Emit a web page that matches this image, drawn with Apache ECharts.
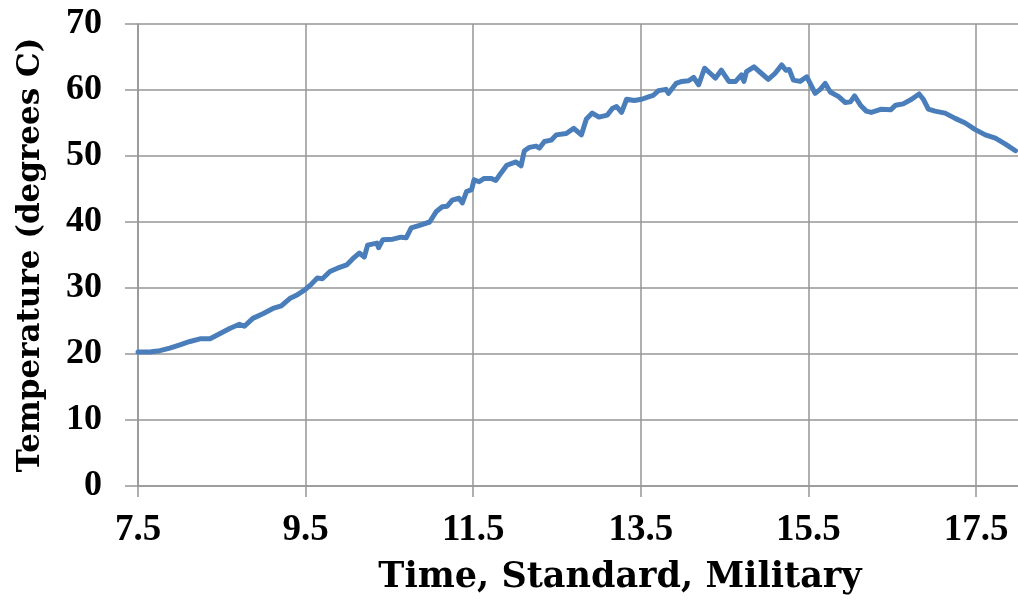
<!DOCTYPE html>
<html>
<head>
<meta charset="utf-8">
<script src="https://cdn.jsdelivr.net/npm/echarts@6/dist/echarts.min.js"></script>
<style>
html,body{margin:0;padding:0;background:#fff;}
#chart{width:1018px;height:605px;}
</style>
</head>
<body>
<div id="chart"></div>
<script>
// Time of day (hours, military) and temperature (degrees C)
const times = [
  7.50, 7.64, 7.76, 7.88, 8.00, 8.12, 8.24, 8.36, 8.48, 8.60, 8.71, 8.77, 8.87, 8.99,
  9.11, 9.21, 9.31, 9.39, 9.49, 9.57, 9.64, 9.70, 9.79, 9.88, 9.99, 10.06, 10.14, 10.20,
  10.24, 10.35, 10.37, 10.42, 10.54, 10.64, 10.70, 10.76, 10.86, 10.98,
  11.06, 11.13, 11.19, 11.25, 11.33, 11.37, 11.42, 11.48, 11.51, 11.57, 11.63, 11.71,
  11.77, 11.83, 11.90, 12.01, 12.07, 12.11, 12.17, 12.25, 12.29, 12.35, 12.43, 12.49,
  12.61, 12.70, 12.79, 12.85, 12.92, 13.00, 13.10, 13.16, 13.21, 13.27, 13.33, 13.42,
  13.51, 13.60, 13.65, 13.71, 13.80, 13.83, 13.92, 13.99, 14.07, 14.13, 14.19, 14.26,
  14.33, 14.39, 14.46, 14.55, 14.63, 14.70, 14.73, 14.76, 14.85, 14.94, 15.02, 15.10,
  15.18, 15.23, 15.27, 15.32, 15.40, 15.48, 15.52, 15.58, 15.64, 15.70, 15.76, 15.86,
  15.94, 16.00, 16.05, 16.12, 16.19, 16.25, 16.37, 16.48, 16.54, 16.63, 16.73, 16.82,
  16.87, 16.93, 17.01, 17.13, 17.25, 17.37, 17.49, 17.61, 17.73, 17.85, 17.97
];
const temps = [
  20.3, 20.3, 20.5, 20.9, 21.4, 21.9, 22.3, 22.3, 23.1, 23.9, 24.5, 24.2, 25.4, 26.1,
  26.9, 27.3, 28.4, 28.9, 29.7, 30.6, 31.5, 31.4, 32.5, 33.0, 33.5, 34.4, 35.3, 34.7,
  36.5, 36.8, 36.1, 37.3, 37.4, 37.7, 37.6, 39.1, 39.5, 40.0,
  41.6, 42.3, 42.4, 43.3, 43.6, 42.9, 44.6, 44.9, 46.4, 46.1, 46.6, 46.6,
  46.3, 47.4, 48.6, 49.1, 48.5, 50.8, 51.3, 51.5, 51.2, 52.2, 52.4, 53.2,
  53.4, 54.2, 53.2, 55.6, 56.5, 55.9, 56.2, 57.2, 57.5, 56.6, 58.6, 58.4,
  58.6, 59.0, 59.2, 59.9, 60.1, 59.5, 61.0, 61.3, 61.4, 61.9, 60.8, 63.3,
  62.5, 61.8, 63.0, 61.3, 61.3, 62.3, 61.3, 62.8, 63.5, 62.5, 61.6, 62.5,
  63.8, 63.0, 63.1, 61.5, 61.3, 62.0, 61.0, 59.5, 60.1, 61.0, 59.7, 59.0,
  58.1, 58.2, 59.1, 57.7, 56.8, 56.6, 57.1, 57.0, 57.7, 57.9, 58.6, 59.4,
  58.6, 57.1, 56.8, 56.5, 55.7, 55.0, 54.0, 53.2, 52.7, 51.8, 50.8
];
const xTicks = [7.5, 9.5, 11.5, 13.5, 15.5, 17.5];
const yTicks = [0, 10, 20, 30, 40, 50, 60, 70];
const xTitle = 'Time, Standard, Military';
const yTitle = 'Temperature (degrees C)';

const gridColor = '#969696';
const chart = echarts.init(document.getElementById('chart'), null, {renderer: 'canvas'});
chart.setOption({
  animation: false,
  backgroundColor: '#ffffff',
  grid: {left: 138, right: -2, top: 24, bottom: 119, containLabel: false},
  xAxis: {
    type: 'value',
    min: 7.5, max: 18,
    name: xTitle,
    nameLocation: 'middle',
    nameGap: 74,
    nameTextStyle: {fontFamily: 'DejaVu Serif', fontWeight: 'bold', fontSize: 35, color: '#000', padding: [0, 0, 0, 84]},
    axisLine: {show: true, lineStyle: {color: gridColor, width: 1.5}},
    axisTick: {show: true, length: 11, customValues: xTicks, lineStyle: {color: gridColor, width: 1.5}},
    axisLabel: {customValues: xTicks, margin: 26, fontFamily: 'Liberation Serif', fontWeight: 'bold', fontSize: 37, color: '#000',
      formatter: v => String(v)},
    splitLine: {show: true, lineStyle: {color: gridColor, width: 1.5}}
  },
  yAxis: {
    type: 'value',
    min: 0, max: 70, interval: 10,
    name: yTitle,
    nameLocation: 'middle',
    nameGap: 92,
    nameTextStyle: {fontFamily: 'DejaVu Serif', fontWeight: 'bold', fontSize: 31, color: '#000'},
    axisLine: {show: true, lineStyle: {color: gridColor, width: 1.5}},
    axisTick: {show: true, length: 13, lineStyle: {color: gridColor, width: 1.5}},
    axisLabel: {margin: 36, fontFamily: 'Liberation Serif', fontWeight: 'bold', fontSize: 36, color: '#000'},
    splitLine: {show: true, lineStyle: {color: gridColor, width: 1.5}}
  },
  series: [{
    type: 'line',
    data: times.map((t, i) => [t, temps[i]]),
    showSymbol: false,
    symbol: 'none',
    smooth: false,
    lineStyle: {color: '#4A7EBB', width: 5, join: 'round', cap: 'round'}
  }]
});
</script>
</body>
</html>
